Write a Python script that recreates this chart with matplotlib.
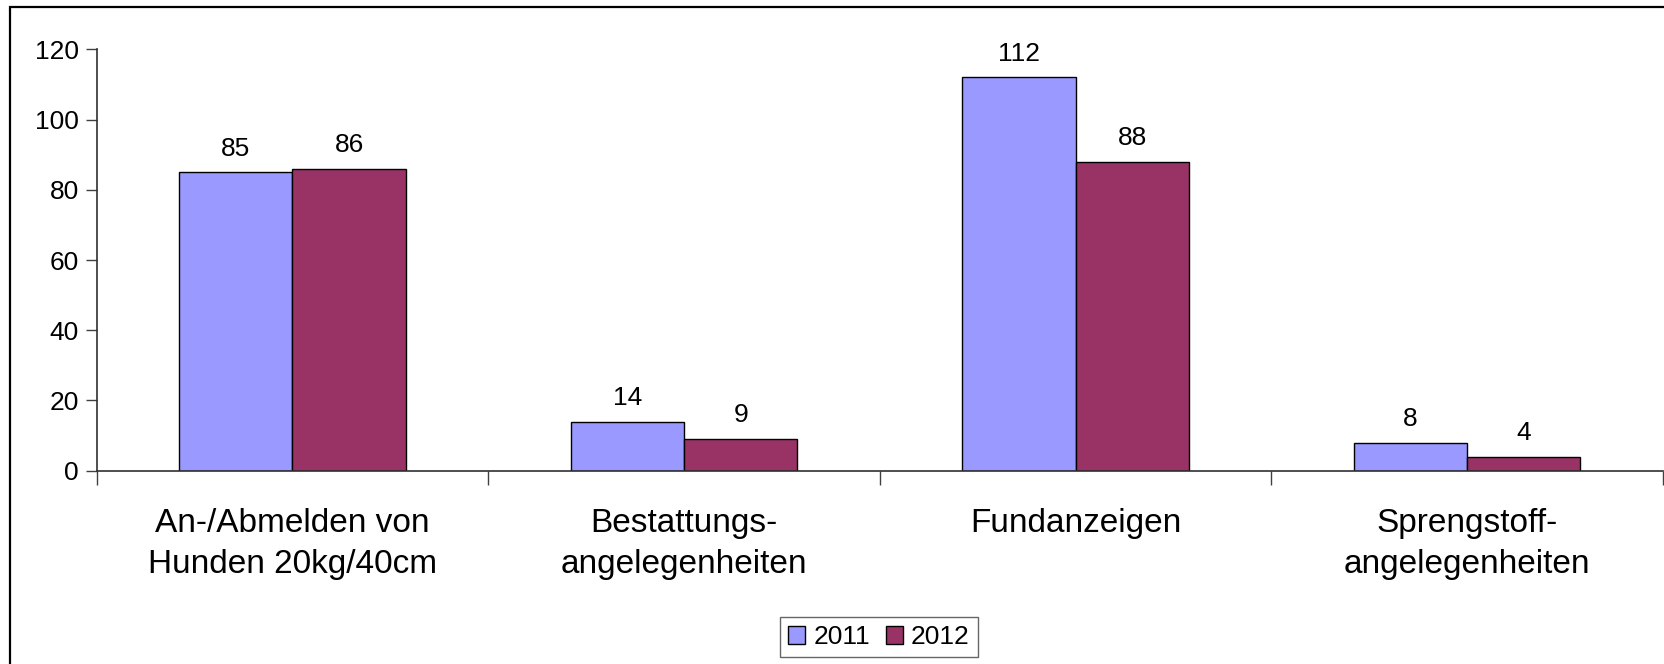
import matplotlib
matplotlib.use("Agg")
import matplotlib.pyplot as plt
import numpy as np
from matplotlib.patches import Rectangle

categories = [
    "An-/Abmelden von\nHunden 20kg/40cm",
    "Bestattungs-\nangelegenheiten",
    "Fundanzeigen",
    "Sprengstoff-\nangelegenheiten",
]
years = ["2011", "2012"]
values_2011 = [85, 14, 112, 8]
values_2012 = [86, 9, 88, 4]
colors = ["#9999FF", "#993366"]
yticks = [0, 20, 40, 60, 80, 100, 120]

plt.rcParams["font.family"] = ["Liberation Sans", "DejaVu Sans"]

W, H = 1665, 664
fig = plt.figure(figsize=(W / 100, H / 100), dpi=100)
ax = fig.add_axes([96.7 / W, 1 - 470.7 / H, (1663 - 96.7) / W, (470.7 - 49.4) / H])

# outer chart-area border (cut off at the right and bottom like the source)
fig.patches.append(Rectangle((10 / W, -0.1), 1.2, 1 - 7 / H + 0.1,
                             transform=fig.transFigure, fill=False,
                             edgecolor="black", linewidth=1.6, zorder=0))

x = np.arange(len(categories)) + 0.5
bw = 0.289
series = [values_2011, values_2012]
for k, (vals, col, yr) in enumerate(zip(series, colors, years)):
    pos = x + (k - 0.5) * bw
    bars = ax.bar(pos, vals, width=bw, color=col, edgecolor="black",
                  linewidth=1.0, label=yr, zorder=2)
    for b, v in zip(bars, vals):
        ax.annotate(str(v), (b.get_x() + b.get_width() / 2, v),
                    xytext=(0, 12), textcoords="offset points",
                    ha="center", va="baseline", fontsize=19)

ax.set_xlim(0, len(categories))
ax.set_ylim(0, 120)
ax.set_yticks(yticks)
ax.tick_params(axis="y", labelsize=19, length=8, width=1, color="#404040", pad=5)

ax.set_xticks(np.arange(len(categories) + 1))
ax.set_xticklabels([])
ax.tick_params(axis="x", which="major", length=10, width=1, color="#404040")
ax.set_xticks(x, minor=True)
ax.set_xticklabels(categories, minor=True, fontsize=24, linespacing=1.42)
ax.tick_params(axis="x", which="minor", length=0, pad=27)

for s in ["top", "right"]:
    ax.spines[s].set_visible(False)
for s in ["left", "bottom"]:
    ax.spines[s].set_color("#303030")
    ax.spines[s].set_linewidth(1.2)

leg = fig.legend(loc="center", bbox_to_anchor=(879 / W, 1 - 637 / H), ncol=2,
                 fontsize=19, frameon=True, fancybox=False, edgecolor="#404040",
                 handlelength=0.65, handleheight=0.65, handletextpad=0.3,
                 columnspacing=0.6, borderpad=0.3, borderaxespad=0)
leg.get_frame().set_linewidth(1.0)

fig.savefig("out.png", dpi=100)
